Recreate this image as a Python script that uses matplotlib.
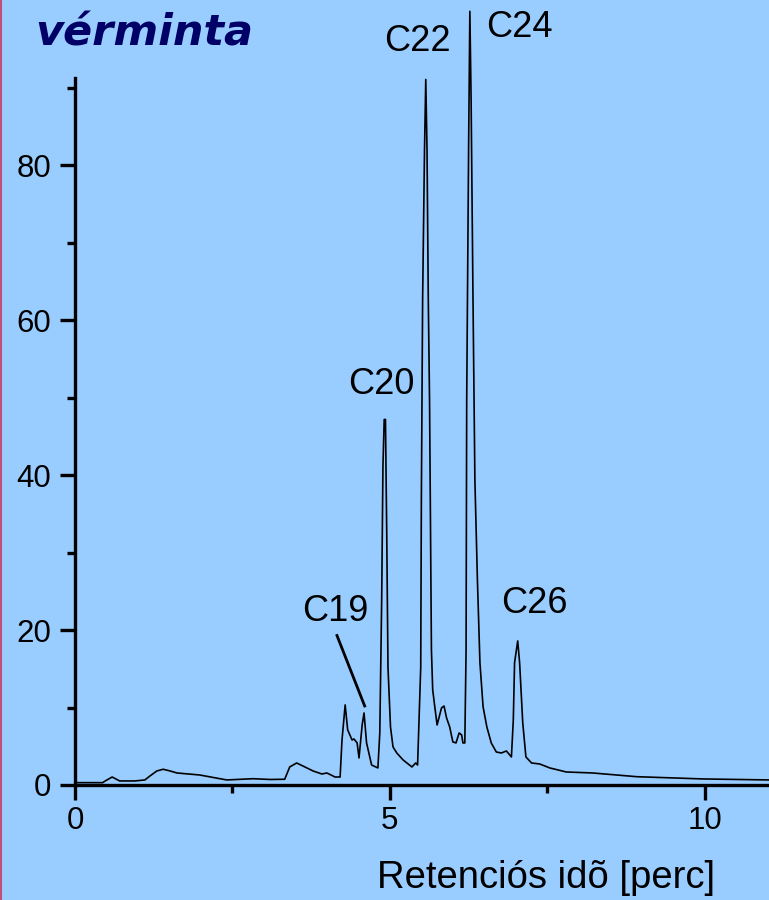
import matplotlib.pyplot as plt
from matplotlib.ticker import MultipleLocator

# Kromatogram adatai (retenciós idő [perc], jel)
ido = [0.00, 0.44, 0.48, 0.59, 0.71, 0.95, 1.11, 1.19, 1.30, 1.40, 1.51, 1.62,
       1.98, 2.41, 2.83, 3.10, 3.33, 3.41, 3.52, 3.65, 3.78, 3.92, 4.00, 4.13,
       4.21, 4.24, 4.29, 4.33, 4.40, 4.43, 4.48, 4.51, 4.56, 4.59, 4.63, 4.71,
       4.81, 4.84, 4.87, 4.89, 4.91, 4.93, 4.95, 4.97, 5.01, 5.05, 5.11, 5.21,
       5.35, 5.41, 5.44, 5.49, 5.50, 5.52, 5.55, 5.57, 5.59, 5.61, 5.63, 5.66,
       5.68, 5.71, 5.75, 5.82, 5.86, 5.90, 5.95, 6.00, 6.05, 6.10, 6.14, 6.16,
       6.19, 6.21, 6.22, 6.25, 6.27, 6.29, 6.32, 6.35, 6.39, 6.43, 6.48, 6.54,
       6.61, 6.69, 6.77, 6.85, 6.93, 6.96, 6.98, 7.03, 7.06, 7.11, 7.16, 7.25,
       7.38, 7.54, 7.80, 8.22, 8.92, 9.97, 11.02]
jel = [0.30, 0.30, 0.52, 1.03, 0.52, 0.52, 0.65, 1.16, 1.81, 2.03, 1.81, 1.55,
       1.29, 0.65, 0.81, 0.71, 0.74, 2.33, 2.84, 2.33, 1.81, 1.42, 1.55, 1.03,
       1.03, 5.81, 10.34, 7.11, 5.81, 5.94, 5.43, 3.49, 7.75, 9.30, 5.43, 2.58,
       2.20, 6.72, 23.9, 41.1, 47.2, 47.2, 32.6, 15.2, 7.49, 4.91, 4.13, 3.23,
       2.33, 2.84, 2.58, 15.2, 36.8, 62.7, 82.0, 91.1, 82.0, 62.7, 49.7, 17.4,
       12.3, 10.3, 7.75, 9.95, 10.2, 8.66, 7.49, 5.56, 5.43, 6.72, 6.46, 5.43,
       5.43, 17.4, 49.7, 82.0, 99.9, 88.5, 62.7, 39.4, 26.5, 15.8, 10.1, 7.49,
       5.43, 4.26, 4.13, 4.39, 3.62, 8.4, 15.8, 18.6, 15.8, 8.01, 3.62, 2.84,
       2.71, 2.20, 1.68, 1.55, 1.07, 0.78, 0.65]

# csúcsok feliratai
csucs_nevek = ["C19", "C20", "C22", "C24", "C26"]
csucs_x = [4.14, 4.87, 5.44, 7.06, 7.29]
csucs_y = [22.35, 51.7, 96.0, 97.8, 23.4]

hatter = "#99ccff"
plt.rcParams['font.family'] = ['Liberation Sans', 'DejaVu Sans']

fig = plt.figure(figsize=(7.69, 9.0), dpi=100, facecolor=hatter)
ax = fig.add_axes([0.0975, 0.1278, 0.9025, 0.7856])
ax.set_facecolor(hatter)

ax.plot(ido, jel, color="black", lw=1.2, clip_on=False)

ax.set_xlim(0, 11.02)
ax.set_ylim(0, 91.3)
ax.spines["top"].set_visible(False)
ax.spines["right"].set_visible(False)
for s in ("left", "bottom"):
    ax.spines[s].set_linewidth(2.4)

ax.xaxis.set_major_locator(MultipleLocator(5))
ax.xaxis.set_minor_locator(MultipleLocator(2.5))
ax.yaxis.set_major_locator(MultipleLocator(20))
ax.yaxis.set_minor_locator(MultipleLocator(10))
ax.tick_params(which="major", length=11, width=2.4, labelsize=22.5, color="black")
ax.tick_params(which="minor", length=6, width=2.4)
ax.tick_params(axis="x", pad=4)
ax.tick_params(axis="y", pad=6)

for nev, x, y in zip(csucs_nevek, csucs_x, csucs_y):
    ax.text(x, y, nev, fontsize=26, ha="center", va="center", clip_on=False)

# C19 mutatóvonal
ax.plot([4.16, 4.60], [19.3, 10.2], color="black", lw=2.0, clip_on=False)

fig.text(715 / 769, 1 - 878 / 900, "Retenciós idõ [perc]", fontsize=27.5,
         ha="right", va="center")
fig.text(35 / 769, 1 - 33 / 900, "vérminta", fontsize=31, color="#000066",
         fontweight="bold", fontstyle="italic", family="DejaVu Sans",
         ha="left", va="center")

# keret bal oldalon
fig.add_artist(plt.Line2D([0.001, 0.001], [0, 1], color="#c0507a", lw=1.5,
                          transform=fig.transFigure))

fig.savefig("out.png", dpi=100, facecolor=hatter)
